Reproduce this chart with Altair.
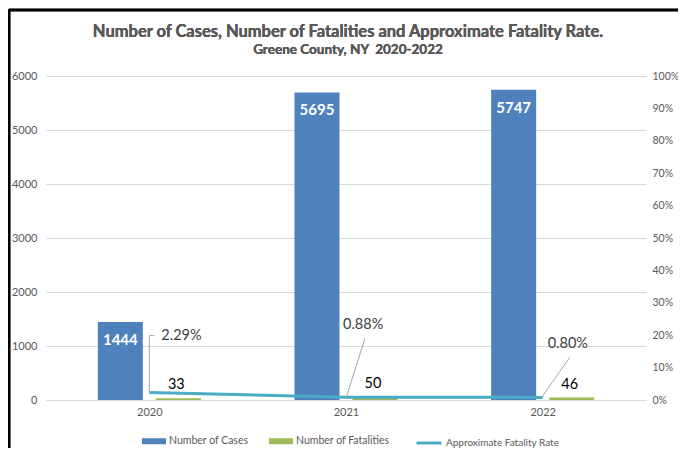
import altair as alt
import pandas as pd

years = [2020, 2021, 2022]
cases = [1444, 5695, 5747]
fatalities = [33, 50, 46]
rates = [0.0229, 0.0088, 0.0080]
rate_labels = ["2.29%", "0.88%", "0.80%"]
left_ticks = [0, 1000, 2000, 3000, 4000, 5000, 6000]
right_ticks = [0, 0.1, 0.2, 0.3, 0.4, 0.5, 0.6, 0.7, 0.8, 0.9, 1.0]
title_text = "Number of Cases, Number of Fatalities and Approximate Fatality Rate."
subtitle_text = "Greene County, NY\u00a0 2020-2022"

df = pd.DataFrame({
    "year": years,
    "cases": cases,
    "fatalities": fatalities,
    "rate": rates,
    "rate_label": rate_labels,
})

FONT = "Lato"
C_CASES = "#4F81BD"
C_FAT = "#9BBB59"
C_RATE = "#4BACC6"
GRAY = "#595959"
GRID = "#D9D9D9"

x_scale = alt.Scale(domain=[2019.5, 2022.5], nice=False, zero=False)
x_axis = alt.Axis(values=years, format="d", title=None, grid=False, ticks=False,
                  domainColor=GRID, domainWidth=1, labelPadding=6, labelFontSize=11,
                  labelColor=GRAY, labelFont=FONT)
x_enc = alt.X("year:Q", scale=x_scale, axis=x_axis)

left_scale = alt.Scale(domain=[0, 6000], nice=False)
left_axis = alt.Axis(values=left_ticks, format="d", title=None, grid=True, gridColor=GRID,
                     domain=False, ticks=False, labelPadding=9, labelFontSize=11,
                     labelColor=GRAY, labelFont=FONT, labelOverlap=False)
right_scale = alt.Scale(domain=[0, 1], nice=False)
right_axis = alt.Axis(orient="right", values=right_ticks, format=".0%", title=None, grid=False,
                      domain=False, ticks=False, labelPadding=6, labelFontSize=10.5,
                      labelColor=GRAY, labelFont=FONT, labelOverlap=False)

series_scale = alt.Scale(domain=["Number of Cases", "Number of Fatalities"],
                         range=[C_CASES, C_FAT])
bar_legend = alt.Legend(orient="none", legendX=96, legendY=353, direction="horizontal",
                        title=None, symbolType="M-1,-0.25H1V0.25H-1Z", symbolSize=576,
                        symbolStrokeWidth=0, labelFontSize=10.5, labelColor=GRAY,
                        labelFont=FONT, columnPadding=20, labelOffset=3)
line_legend = alt.Legend(orient="none", legendX=369, legendY=353, direction="horizontal",
                         title=None, symbolType="stroke", symbolSize=625,
                         symbolStrokeWidth=3, labelFontSize=10, labelColor=GRAY,
                         labelFont=FONT, labelOffset=3)


def ly(field):
    return alt.Y(field, scale=left_scale, axis=left_axis)


def ry(field):
    return alt.Y(field, scale=right_scale, axis=right_axis)


base = alt.Chart(df)

cases_bar = base.transform_calculate(series="'Number of Cases'").mark_bar(
    width=45, xOffset=-29
).encode(
    x=x_enc, y=ly("cases:Q"),
    color=alt.Color("series:N", scale=series_scale, legend=bar_legend),
)
fat_bar = base.transform_calculate(series="'Number of Fatalities'").mark_bar(
    width=45, xOffset=29
).encode(
    x=x_enc, y=ly("fatalities:Q"),
    color=alt.Color("series:N", scale=series_scale, legend=bar_legend),
)
cases_text = base.mark_text(
    xOffset=-29, dy=23, baseline="alphabetic", align="center", font=FONT,
    fontSize=15, fontWeight="bold", color="white"
).encode(x=x_enc, y=ly("cases:Q"), text=alt.Text("cases:Q", format="d"))
fat_text = base.mark_text(
    xOffset=27, dy=-9, baseline="alphabetic", align="center", font=FONT,
    fontSize=14.5, color="#000000"
).encode(x=x_enc, y=ly("fatalities:Q"), text=alt.Text("fatalities:Q", format="d"))

frame_top = alt.Chart(df).mark_rule(color="#000000", strokeWidth=2.5).encode(
    x=alt.value(-37), x2=alt.value(640), y=alt.value(-66))
frame_left = alt.Chart(df).mark_rule(color="#000000", strokeWidth=2.5).encode(
    x=alt.value(-37), y=alt.value(-67), y2=alt.value(390))

title_mark = alt.Chart(df).mark_text(
    text=title_text, font=FONT, fontSize=16.5, fontWeight="bold", color=GRAY,
    align="center", baseline="alphabetic"
).encode(x=alt.value(302), y=alt.value(-39))
subtitle_mark = alt.Chart(df).mark_text(
    text=subtitle_text, font=FONT, fontSize=13.5, fontWeight="bold", color=GRAY,
    align="center", baseline="alphabetic"
).encode(x=alt.value(302), y=alt.value(-22))

left = alt.layer(cases_bar, fat_bar, cases_text, fat_text, frame_top, frame_left,
                 title_mark, subtitle_mark)

rate_line = base.transform_calculate(series2="'Approximate Fatality Rate'").mark_line(
    strokeWidth=3
).encode(
    x=x_enc, y=ry("rate:Q"),
    stroke=alt.Stroke("series2:N",
                      scale=alt.Scale(domain=["Approximate Fatality Rate"], range=[C_RATE]),
                      legend=line_legend),
)

# callout styling: text offset and leader segments (pixel offsets from each point)
callout_style = {
    2020: {"text": (12, -57), "leaders": [(0, 0, 0, -57), (0, -57, 5, -57)]},
    2021: {"text": (-3, -72), "leaders": [(0, 1, 19, -59)]},
    2022: {"text": (5, -53), "leaders": [(-1, 0, 27, -40)]},
}

callout_layers = []
for yr, st in callout_style.items():
    sub = base.transform_filter(alt.datum.year == yr)
    for (a, b, c, d) in st["leaders"]:
        callout_layers.append(
            sub.mark_rule(color="#A6A6A6", strokeWidth=1, xOffset=a, yOffset=b,
                          x2Offset=c, y2Offset=d).encode(
                x=x_enc, x2=alt.X2("year"), y=ry("rate:Q"), y2=alt.Y2("rate"))
        )
    dx, dy = st["text"]
    callout_layers.append(
        sub.mark_text(align="left", baseline="middle", dx=dx, dy=dy, font=FONT,
                      fontSize=14.5, color="#404040").encode(
            x=x_enc, y=ry("rate:Q"), text="rate_label:N")
    )

right = alt.layer(rate_line, *callout_layers)

chart = alt.layer(left, right).resolve_scale(y="independent").properties(
    width=600,
    height=324,
    autosize=alt.AutoSizeParams(type="none"),
    padding={"left": 38, "top": 68, "right": 32, "bottom": 48},
).configure_view(stroke=None)

chart.save("out.html", embed_options={"renderer": "svg", "actions": False})
